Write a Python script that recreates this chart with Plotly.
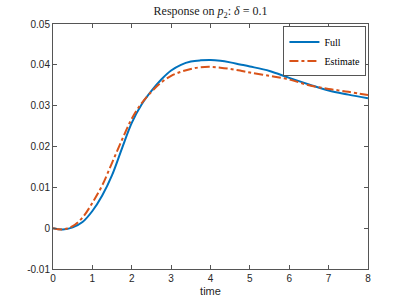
import plotly.graph_objects as go

t = [0, 0.25, 0.5, 0.75, 1.0, 1.25, 1.5, 1.75, 2.0, 2.25, 2.5, 2.75, 3.0, 3.25, 3.5, 3.75,
     4.0, 4.25, 4.5, 4.75, 5.0, 5.5, 6.0, 6.5, 7.0, 7.5, 8.0]
full = [0, -0.0003, 0.0002, 0.0015, 0.0042, 0.0080, 0.0130, 0.0195, 0.0258, 0.0303, 0.0336,
        0.0364, 0.0386, 0.0400, 0.0408, 0.0411, 0.0412, 0.0410, 0.0406, 0.0401, 0.0396,
        0.0385, 0.0368, 0.0352, 0.0337, 0.0327, 0.0318]
estimate = [0, -0.0003, 0.0005, 0.0026, 0.0062, 0.0105, 0.0160, 0.0216, 0.0268, 0.0306, 0.0334,
            0.0357, 0.0373, 0.0383, 0.0390, 0.0394, 0.0395, 0.0393, 0.0390, 0.0386, 0.0381,
            0.0373, 0.0364, 0.0350, 0.0341, 0.0334, 0.0326]

x_ticks = [0, 1, 2, 3, 4, 5, 6, 7, 8]
y_ticks = [-0.01, 0, 0.01, 0.02, 0.03, 0.04, 0.05]
y_tick_labels = ["-0.01", "0", "0.01", "0.02", "0.03", "0.04", "0.05"]

fig = go.Figure()
fig.add_trace(go.Scatter(x=t, y=full, mode="lines", name="Full",
                         line=dict(color="#0072BD", width=2, shape="spline", smoothing=1.0)))
fig.add_trace(go.Scatter(x=t, y=estimate, mode="lines", name="Estimate",
                         line=dict(color="#D95319", width=2, dash="dashdot", shape="spline", smoothing=1.0)))

axis_common = dict(showgrid=False, zeroline=False, showline=True, linecolor="#555555", linewidth=1,
                   mirror="ticks", ticks="inside", ticklen=4, tickcolor="#555555", automargin=False,
                   tickfont=dict(family="Liberation Sans, Arial, sans-serif", size=10, color="#262626"))

fig.update_layout(
    width=407, height=305,
    paper_bgcolor="white", plot_bgcolor="white",
    margin=dict(l=53, r=39, t=24, b=36),
    title=dict(text="Response on <i>p</i><sub>2</sub>: <i>δ</i> = 0.1",
               x=(53 + 368) / 2 / 407, xanchor="center", xref="container",
               y=1 - 11 / 305, yanchor="middle", yref="container", automargin=False,
               font=dict(family="Liberation Serif, DejaVu Serif, serif", size=12, color="#1a1a1a")),
    xaxis=dict(range=[0, 8], tickvals=x_ticks, title=dict(text="time", standoff=4,
               font=dict(family="Liberation Sans, Arial, sans-serif", size=11, color="#262626")),
               **axis_common),
    yaxis=dict(range=[-0.01, 0.05], tickvals=y_ticks, ticktext=y_tick_labels, **axis_common),
    legend=dict(x=0.995, y=0.99, xanchor="right", yanchor="top",
                bgcolor="white", bordercolor="#555555", borderwidth=1,
                font=dict(family="Liberation Serif, DejaVu Serif, serif", size=10, color="#000000"),
                tracegroupgap=0, itemwidth=30),
    showlegend=True,
)

fig.write_html("out.html", config={"displayModeBar": False},
               post_script="document.body.style.margin='0px';")
